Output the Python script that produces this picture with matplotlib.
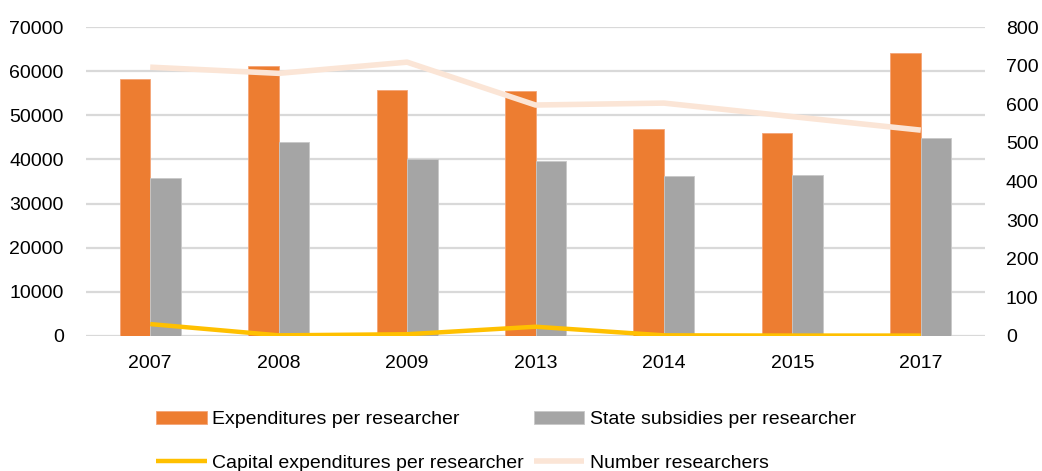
import matplotlib
matplotlib.use("Agg")
import matplotlib.pyplot as plt
import numpy as np

years = ["2007", "2008", "2009", "2013", "2014", "2015", "2017"]
expenditures = [58200, 61100, 55700, 55500, 46900, 46000, 64000]
subsidies = [35700, 43900, 40100, 39600, 36200, 36400, 44900]
capital = [2700, 150, 400, 2100, 150, 100, 100]
researchers = [696, 680, 709, 598, 603, 568, 533]

left_ticks = [0, 10000, 20000, 30000, 40000, 50000, 60000, 70000]
right_ticks = [0, 100, 200, 300, 400, 500, 600, 700, 800]

plt.rcParams['font.family'] = ['Liberation Sans', 'DejaVu Sans']
FS = 14

fig = plt.figure(figsize=(10.42, 4.71), dpi=100)
ax = fig.add_axes([86/1042, 1-336/471, (985-86)/1042, (336-27)/471])
ax2 = ax.twinx()

x = np.arange(len(years))
w = 0.238
b1 = ax.bar(x - w/2, expenditures, w, color='#ED7D31', edgecolor='#F4A577', linewidth=0.6,
            label='Expenditures per researcher', zorder=2)
b2 = ax.bar(x + w/2, subsidies, w, color='#A5A5A5', edgecolor='#C8C8C8', linewidth=0.6,
            label='State subsidies per researcher', zorder=2)
l1, = ax.plot(x, capital, color='#FFC000', lw=3.2, solid_capstyle='butt',
              label='Capital expenditures per researcher', zorder=3)
l2, = ax2.plot(x, researchers, color='#FBE5D6', lw=4.0, solid_capstyle='butt',
               label='Number researchers', zorder=3)

ax.set_xlim(-0.5, len(years) - 0.5)
ax.set_ylim(0, 70000)
ax2.set_ylim(0, 800)
ax.set_yticks(left_ticks)
ax.set_yticklabels([str(t) for t in left_ticks])
ax2.set_yticks(right_ticks)
ax2.set_yticklabels([str(t) for t in right_ticks])
ax.set_xticks(x)
ax.set_xticklabels(years)

ax.yaxis.grid(True, color='#D9D9D9', lw=1.6, zorder=0)
ax.set_axisbelow(True)
for a in (ax, ax2):
    for s in a.spines.values():
        s.set_visible(False)
ax.tick_params(axis='y', length=0, pad=16, labelsize=FS, colors='black')
ax2.tick_params(axis='y', length=0, pad=15, labelsize=FS, colors='black')
ax.tick_params(axis='x', length=0, pad=14, labelsize=FS, colors='black')

handles = [b1, l1, b2, l2]
labels = ['Expenditures per researcher', 'Capital expenditures per researcher',
          'State subsidies per researcher', 'Number researchers']
leg = fig.legend(handles, labels, ncol=2, loc='upper left',
                 bbox_to_anchor=(156/1042, 1-411/471), frameon=False,
                 fontsize=FS, handlelength=2.6, handleheight=0.65, handletextpad=0.3,
                 columnspacing=0.5, labelspacing=1.35, borderaxespad=0, borderpad=0)

fig.savefig('out.png', dpi=100)
